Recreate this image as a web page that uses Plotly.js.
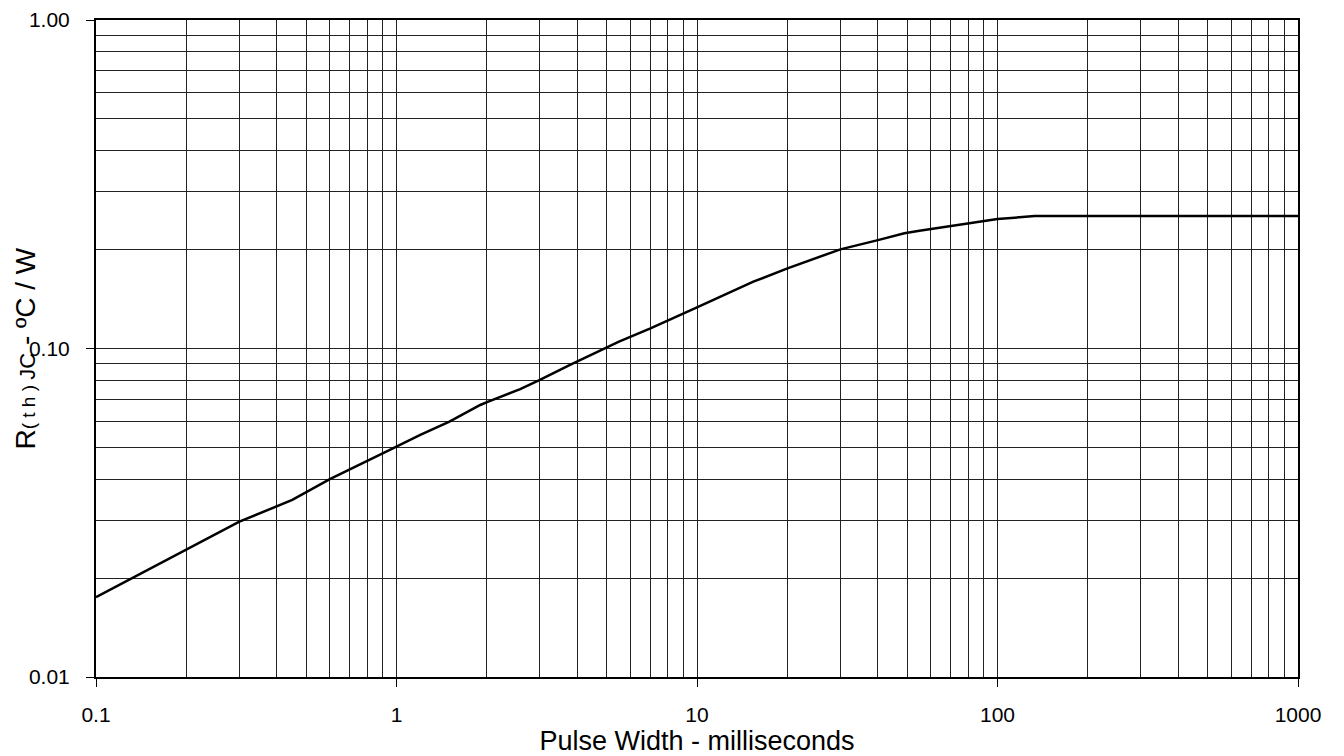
<!DOCTYPE html>
<html>
<head>
<meta charset="utf-8">
<script src="https://cdn.plot.ly/plotly-3.0.1.min.js"></script>
<style>html,body{margin:0;padding:0;background:#fff;}#chart{width:1344px;height:756px;}</style>
</head>
<body>
<div id="chart"></div>
<script>
// Pulse width (ms)
const pulseWidth = [0.1, 0.2, 0.3, 0.45, 0.6, 0.95, 1.2, 1.5, 1.9, 2.02, 2.58, 3.0, 3.78, 5.5, 7.0, 10, 15.4, 20, 30, 40, 49, 55, 100, 133, 1000];
// Thermal resistance R(th)JC (°C/W)
const rthJC = [0.0175, 0.0244, 0.0297, 0.0346, 0.040, 0.0491, 0.0546, 0.0599, 0.0673, 0.0689, 0.0752, 0.0802, 0.0891, 0.105, 0.1152, 0.1335, 0.1597, 0.1754, 0.2004, 0.2138, 0.2242, 0.2284, 0.2478, 0.253, 0.253];

const xTickVals = [0.1, 1, 10, 100, 1000];
const xTickText = ["0.1", "1", "10", "100", "1000"];
const yTickVals = [0.01, 0.1, 1];
const yTickText = ["0.01", "0.10", "1.00"];

const xTitle = "Pulse Width - milliseconds";
const yTitle = 'R<span style="font-size:19px">( t h ) </span><span style="font-size:22px">JC</span> - ºC / W';

const FONT = "Liberation Sans, Arial, sans-serif";

const trace = {
  x: pulseWidth,
  y: rthJC,
  type: "scatter",
  mode: "lines",
  line: {color: "#000", width: 2.5},
  hoverinfo: "skip"
};

const gridCol = "#222";

const layout = {
  width: 1344,
  height: 756,
  margin: {l: 96, r: 46, t: 20, b: 79},
  paper_bgcolor: "#fff",
  plot_bgcolor: "#fff",
  showlegend: false,
  font: {family: FONT, color: "#000", size: 21},
  xaxis: {
    type: "log",
    range: [-1, 3],
    tickmode: "array",
    tickvals: xTickVals,
    ticktext: xTickText,
    ticks: "outside",
    ticklen: 8,
    tickwidth: 1,
    tickcolor: "#000",
    showline: true,
    linecolor: "#000",
    linewidth: 2,
    mirror: true,
    showgrid: true,
    gridcolor: gridCol,
    gridwidth: 1,
    zeroline: false,
    tickfont: {family: FONT, size: 21, color: "#000"},
    ticklabelstandoff: 10,
    minor: {dtick: "D1", showgrid: true, gridcolor: gridCol, gridwidth: 1, ticks: ""},
    title: {text: xTitle, font: {family: FONT, size: 27, color: "#000"}, standoff: 0}
  },
  yaxis: {
    type: "log",
    range: [-2, 0],
    tickmode: "array",
    tickvals: yTickVals,
    ticktext: yTickText,
    ticks: "outside",
    ticklen: 8,
    tickwidth: 1,
    tickcolor: "#000",
    showline: true,
    linecolor: "#000",
    linewidth: 2,
    mirror: true,
    showgrid: true,
    gridcolor: gridCol,
    gridwidth: 1,
    zeroline: false,
    tickfont: {family: FONT, size: 21, color: "#000"},
    ticklabelstandoff: 12,
    minor: {dtick: "D1", showgrid: true, gridcolor: gridCol, gridwidth: 1, ticks: ""}
  },
  annotations: [{
    text: yTitle,
    xref: "paper", yref: "paper",
    x: -0.059, y: 0.5,
    xanchor: "center", yanchor: "middle",
    textangle: -90,
    showarrow: false,
    font: {family: FONT, size: 28, color: "#000"}
  }]
};

Plotly.newPlot("chart", [trace], layout, {staticPlot: true, displayModeBar: false});
</script>
</body>
</html>
